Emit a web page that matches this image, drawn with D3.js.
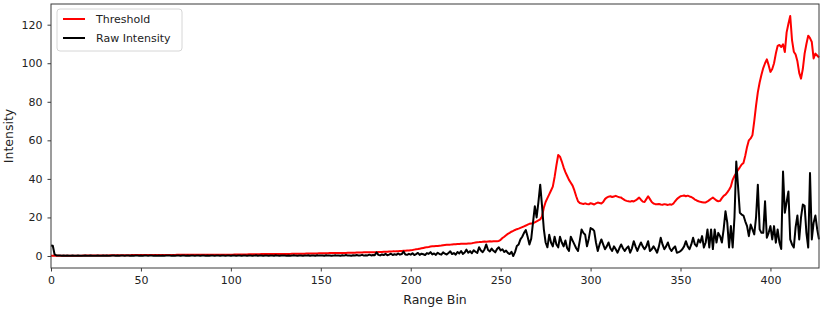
<!DOCTYPE html>
<html>
<head>
<meta charset="utf-8">
<script src="https://cdn.jsdelivr.net/npm/d3@7"></script>
<style>
  body { margin: 0; background: #fff; }
  #chart text { font-family: "DejaVu Sans", sans-serif; fill: #222; }
</style>
</head>
<body>
<div id="chart"></div>
<script>
// Threshold per range bin (0..427)
const threshold = [
  0.1,0.1,0.1,0.1,0.1,0.1,0.1,0.1,0.1,0.1, 0.1,0.1,0.1,0.1,0.1,0.1,0.1,0.1,0.2,0.2,
  0.2,0.2,0.2,0.2,0.2,0.2,0.2,0.3,0.3,0.3, 0.3,0.3,0.3,0.4,0.4,0.4,0.4,0.4,0.4,0.4,
  0.4,0.4,0.4,0.4,0.4,0.5,0.5,0.5,0.5,0.5, 0.5,0.5,0.5,0.5,0.5,0.5,0.5,0.5,0.5,0.5,
  0.5,0.5,0.5,0.5,0.5,0.5,0.5,0.5,0.5,0.5, 0.6,0.6,0.6,0.6,0.6,0.6,0.6,0.6,0.6,0.6,
  0.6,0.6,0.6,0.6,0.6,0.6,0.6,0.6,0.6,0.6, 0.6,0.7,0.7,0.7,0.7,0.7,0.7,0.7,0.7,0.7,
  0.7,0.7,0.8,0.8,0.8,0.8,0.8,0.8,0.8,0.8, 0.9,0.9,0.9,0.9,0.9,0.9,0.9,1.0,1.0,1.0,
  1.0,1.0,1.0,1.0,1.0,1.0,1.1,1.1,1.1,1.1, 1.1,1.1,1.1,1.1,1.2,1.2,1.2,1.2,1.2,1.2,
  1.2,1.2,1.3,1.3,1.3,1.3,1.3,1.3,1.3,1.4, 1.4,1.4,1.4,1.4,1.4,1.5,1.5,1.5,1.5,1.5,
  1.5,1.6,1.6,1.6,1.6,1.7,1.7,1.7,1.7,1.7, 1.8,1.8,1.8,1.8,1.9,1.9,1.9,1.9,2.0,2.0,
  2.0,2.0,2.1,2.1,2.1,2.2,2.2,2.2,2.3,2.3, 2.4,2.4,2.5,2.5,2.6,2.6,2.7,2.7,2.8,2.9,
  3.0,3.1,3.3,3.5,3.6,3.8,4.0,4.2,4.4,4.6, 4.7,4.9,5.0,5.1,5.2,5.2,5.3,5.4,5.6,5.7,
  5.8,5.9,5.9,6.0,6.1,6.1,6.2,6.2,6.3,6.3, 6.4,6.4,6.5,6.5,6.6,6.8,7.0,7.1,7.2,7.2,
  7.4,7.5,7.4,7.5,7.6,7.5,7.6,7.7,7.7,7.8, 8.4,9.3,10.0,10.8,11.5,12.0,12.6,13.0,13.5,13.9,
  14.2,14.6,15.0,15.4,15.8,16.3,16.7,16.9,16.9,17.5, 18.0,18.5,19.0,20.5,25.0,28.0,30.0,32.0,34.0,36.0,
  41.0,47.0,52.4,51.5,49.0,46.0,43.5,41.5,39.5,38.0, 36.5,34.0,31.0,28.4,27.5,27.2,27.0,27.3,27.0,26.8,
  27.4,27.1,26.7,27.3,27.7,27.5,27.2,28.0,29.5,30.3, 30.8,31.0,30.6,30.9,31.2,30.8,30.5,30.3,29.6,29.0,
  28.6,28.4,28.2,28.5,28.3,28.8,29.5,30.3,29.2,28.2, 28.0,29.5,31.0,29.5,28.0,27.2,26.9,26.8,27.0,26.7,
  26.6,26.9,26.7,26.5,26.8,26.6,27.2,28.4,29.5,30.3, 31.0,31.2,31.4,31.0,31.3,30.9,30.6,30.0,29.3,28.8,
  28.4,28.1,27.9,27.7,27.8,28.3,29.0,29.7,30.3,29.6, 28.8,28.4,28.6,30.0,31.2,31.8,33.0,34.4,36.0,39.5,
  41.5,43.0,44.7,46.0,47.5,48.3,52.0,56.6,60.0,61.0, 62.7,70.0,78.0,85.0,90.0,94.0,97.5,100.0,102.0,99.0,
  95.5,97.0,100.0,105.0,109.0,109.5,108.4,109.8,105.8,116.0, 120.5,124.5,112.0,106.0,104.5,101.0,95.0,92.0,97.0,105.0,
  110.0,114.3,113.0,111.0,102.5,105.0,104.0,103.0
];

// Raw intensity per range bin (0..427)
const rawIntensity = [
  5.5,5.3,0.8,0.3,0.2,0.2,0.1,0.2,0.1,0.2, 0.1,0.1,0.2,0.1,0.1,0.2,0.1,0.1,0.1,0.2,
  0.1,0.1,0.2,0.1,0.1,0.1,0.2,0.1,0.1,0.2, 0.1,0.2,0.1,0.1,0.2,0.3,0.1,0.2,0.1,0.2,
  0.2,0.1,0.2,0.3,0.1,0.2,0.1,0.2,0.2,0.1, 0.2,0.1,0.3,0.2,0.1,0.2,0.2,0.1,0.2,0.1,
  0.2,0.1,0.2,0.1,0.2,0.3,0.2,0.1,0.2,0.1, 0.2,0.2,0.1,0.3,0.2,0.1,0.2,0.1,0.2,0.2,
  0.1,0.2,0.3,0.1,0.2,0.2,0.1,0.2,0.1,0.3, 0.2,0.1,0.2,0.2,0.1,0.3,0.2,0.1,0.2,0.2,
  0.1,0.3,0.2,0.1,0.2,0.3,0.1,0.2,0.2,0.1, 0.3,0.2,0.1,0.2,0.4,0.1,0.2,0.3,0.1,0.2,
  0.2,0.1,0.3,0.2,0.1,0.4,0.2,0.1,0.3,0.2, 0.2,0.1,0.3,0.1,0.2,0.4,0.2,0.1,0.3,0.2,
  0.1,0.3,0.2,0.4,0.1,0.2,0.3,0.1,0.4,0.2, 0.2,0.3,0.1,0.4,0.2,0.3,0.1,0.2,0.4,0.2,
  0.3,0.1,0.4,0.2,0.5,0.2,0.3,0.1,0.4,0.3, 0.5,0.2,0.3,0.6,0.2,0.4,0.3,0.7,0.3,0.5,
  0.4,1.9,0.6,0.3,0.8,0.5,1.1,0.4,0.7,1.2, 0.5,0.9,0.6,1.3,0.7,1.0,2.3,0.8,0.6,1.1,
  0.7,1.4,0.5,1.0,1.6,0.6,1.2,0.9,0.5,1.5, 1.1,2.0,0.8,1.3,0.6,1.7,1.0,0.7,1.9,1.2,
  0.8,1.6,2.4,1.0,1.5,0.7,2.1,1.3,2.6,1.1, 1.8,3.3,1.7,2.5,1.4,3.0,2.2,1.6,4.5,2.8,
  2.0,3.4,6.0,3.1,2.4,3.8,2.7,1.9,3.6,4.5, 2.9,3.5,2.1,2.8,1.6,1.0,2.2,0.0,2.0,5.2,
  6.0,8.6,10.0,12.0,13.5,10.0,6.0,9.0,17.4,25.8, 20.0,28.0,37.0,26.0,14.0,7.0,4.5,11.0,7.0,5.0,
  10.0,6.0,4.5,10.0,7.0,5.0,8.0,4.0,2.6,10.0, 8.0,6.0,4.0,2.6,8.0,13.8,12.0,11.0,5.0,9.0,
  14.5,14.0,13.0,7.0,2.6,6.0,8.6,6.0,3.5,5.0, 7.0,4.0,2.6,5.0,3.5,1.7,4.0,6.0,4.0,2.6,
  4.0,5.0,1.7,4.0,7.7,5.0,2.6,5.0,7.0,5.0, 3.5,5.0,7.7,2.6,3.5,5.0,3.5,1.7,5.0,9.5,
  6.0,3.5,5.0,7.0,4.0,2.6,4.0,5.0,1.7,2.0, 2.5,3.5,5.0,7.7,5.0,3.5,6.0,9.5,6.0,5.0,
  8.6,7.0,10.3,4.4,7.0,13.8,4.4,13.8,3.6,13.8, 7.0,12.0,10.3,7.0,14.0,23.2,17.3,4.4,15.5,4.4,
  20.0,49.0,36.0,22.4,21.5,21.0,18.0,15.5,10.3,16.3, 13.8,11.2,20.0,37.0,13.8,12.0,12.0,28.4,9.5,12.0,
  15.5,8.6,15.5,6.9,13.8,7.0,3.6,43.8,22.4,28.0, 33.5,8.6,6.0,4.4,15.0,21.0,8.6,20.0,26.7,26.0,
  12.0,4.4,43.0,8.6,17.3,21.0,13.8,8.6
];

const xTicks = [0, 50, 100, 150, 200, 250, 300, 350, 400];
const yTicks = [0, 20, 40, 60, 80, 100, 120];
const seriesNames = ["Threshold", "Raw Intensity"];
const seriesColors = ["#ff0000", "#000000"];

class IntensityChart {
  constructor(parentElement) {
    this.parentElement = parentElement;
    this.initVis();
  }

  initVis() {
    let vis = this;

    vis.margin = { top: 4, right: 3, bottom: 43, left: 51 };
    vis.width = 822 - vis.margin.left - vis.margin.right;
    vis.height = 311 - vis.margin.top - vis.margin.bottom;

    vis.svg = d3
      .select("#" + vis.parentElement)
      .append("svg")
      .attr("width", 822)
      .attr("height", 311)
      .append("g")
      .attr("transform", `translate(${vis.margin.left},${vis.margin.top})`);

    vis.x = d3.scaleLinear().domain([0, threshold.length - 1]).range([0, vis.width]);

    // matplotlib style 5% padding on y
    const all = threshold.concat(rawIntensity);
    const lo = d3.min(all), hi = d3.max(all);
    const pad = (hi - lo) * 0.05;
    vis.y = d3.scaleLinear().domain([lo - pad, hi + pad]).range([vis.height, 0]);

    vis.updateVis();
  }

  updateVis() {
    let vis = this;

    let line = d3
      .line()
      .x((d, i) => vis.x(i))
      .y((d) => vis.y(d));

    [threshold, rawIntensity].forEach((values, k) => {
      vis.svg
        .append("path")
        .datum(values)
        .attr("d", line)
        .attr("fill", "none")
        .attr("stroke", seriesColors[k])
        .attr("stroke-width", 2)
        .attr("stroke-linejoin", "round");
    });

    // frame
    vis.svg
      .append("rect")
      .attr("width", vis.width)
      .attr("height", vis.height)
      .attr("fill", "none")
      .attr("stroke", "#3a3a3a")
      .attr("stroke-width", 1);

    let xAxis = d3.axisBottom(vis.x).tickValues(xTicks).tickSize(3.5).tickPadding(5);
    let yAxis = d3.axisLeft(vis.y).tickValues(yTicks).tickSize(3.5).tickPadding(5);

    let gx = vis.svg
      .append("g")
      .attr("transform", `translate(0,${vis.height})`)
      .call(xAxis);
    let gy = vis.svg.append("g").call(yAxis);

    [gx, gy].forEach((g) => {
      g.select(".domain").remove();
      g.selectAll(".tick line").attr("stroke", "#3a3a3a");
      g.selectAll(".tick text").style("font-size", "11px");
    });

    vis.svg
      .append("text")
      .attr("x", vis.width / 2)
      .attr("y", vis.height + 36)
      .attr("text-anchor", "middle")
      .style("font-size", "12.5px")
      .text("Range Bin");

    vis.svg
      .append("text")
      .attr("transform", "rotate(-90)")
      .attr("x", -vis.height / 2)
      .attr("y", -38)
      .attr("text-anchor", "middle")
      .style("font-size", "12.5px")
      .text("Intensity");

    // legend
    let legend = vis.svg.append("g").attr("transform", "translate(6,5)");
    legend
      .append("rect")
      .attr("width", 125)
      .attr("height", 42)
      .attr("rx", 3)
      .attr("fill", "#fff")
      .attr("fill-opacity", 0.8)
      .attr("stroke", "#d6d6d6");

    seriesNames.forEach((name, k) => {
      let yy = 10 + k * 19;
      legend
        .append("line")
        .attr("x1", 6)
        .attr("x2", 28)
        .attr("y1", yy)
        .attr("y2", yy)
        .attr("stroke", seriesColors[k])
        .attr("stroke-width", 2);
      legend
        .append("text")
        .attr("x", 39)
        .attr("y", yy)
        .attr("dy", "0.35em")
        .style("font-size", "11px")
        .text(name);
    });
  }
}

new IntensityChart("chart");
</script>
</body>
</html>
